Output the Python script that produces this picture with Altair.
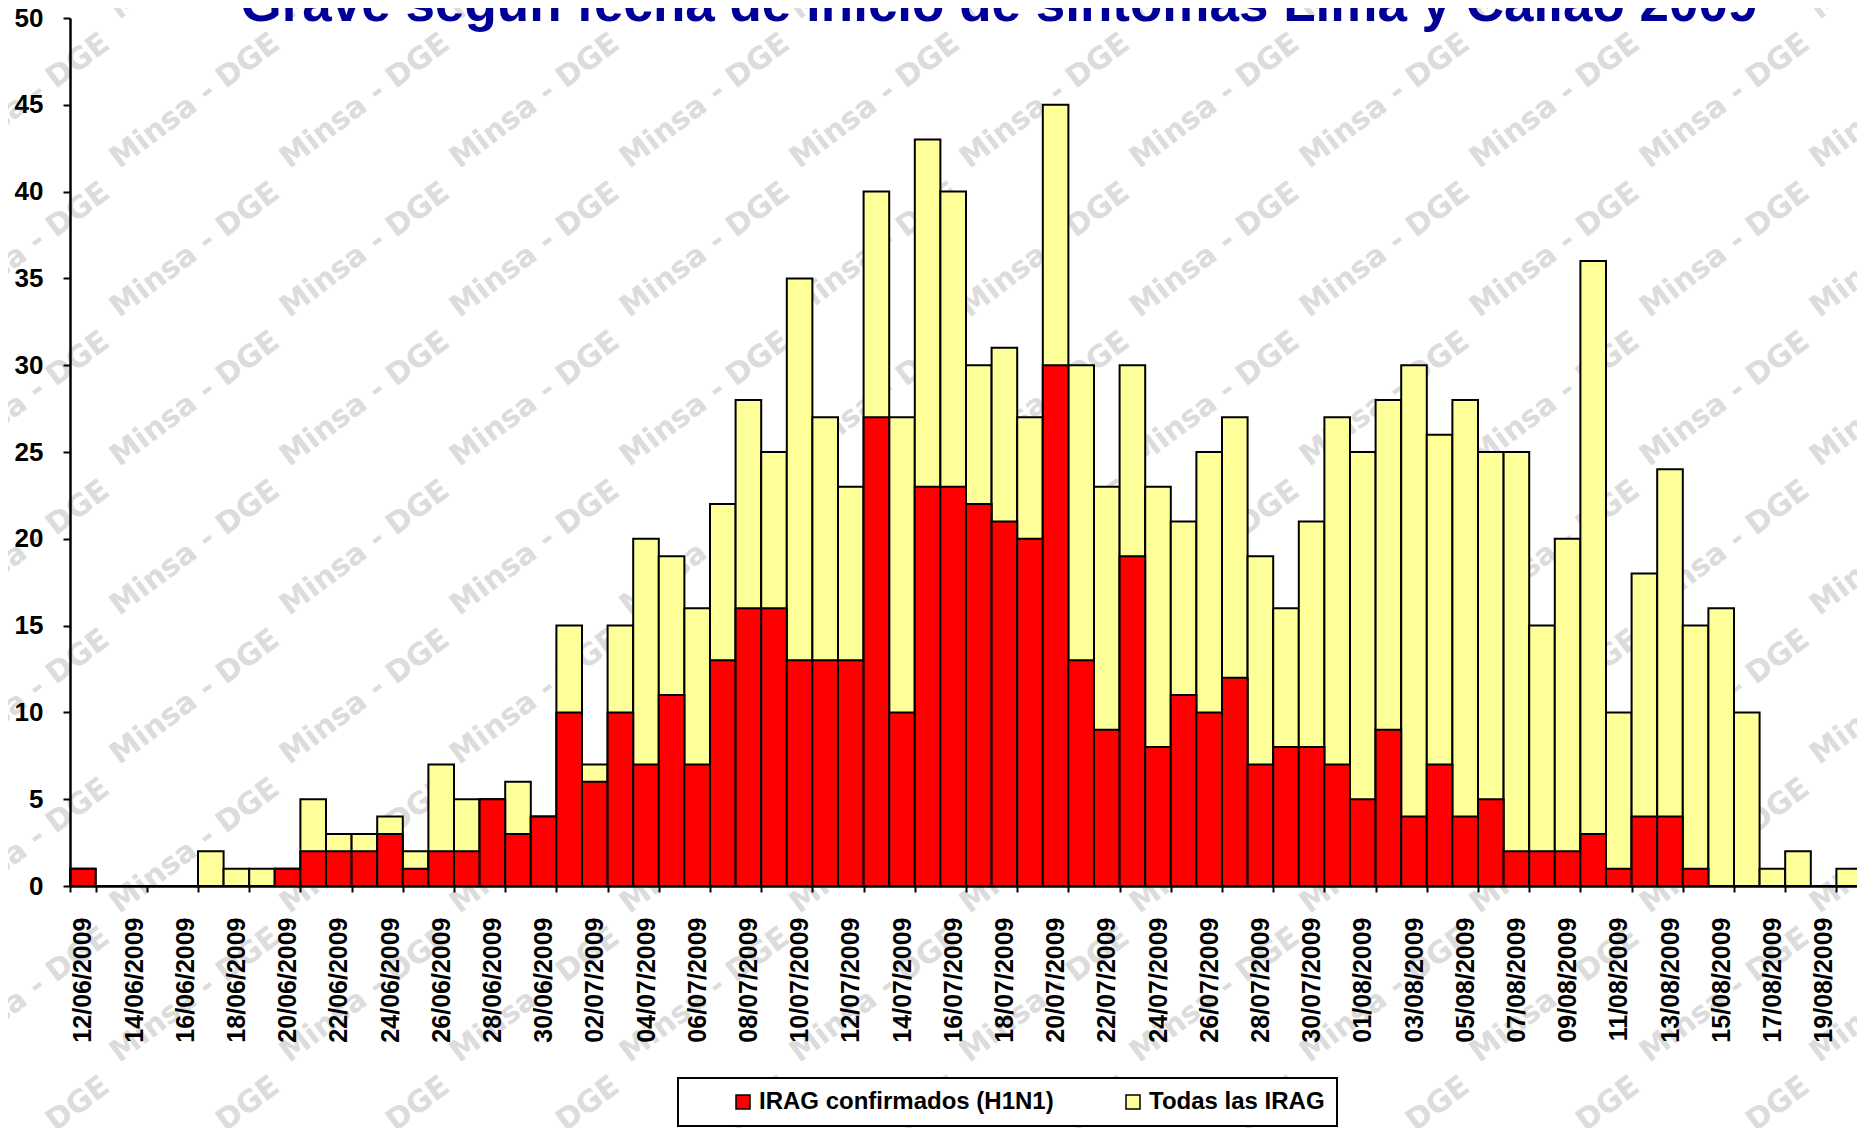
import altair as alt
import pandas as pd

# ---------------- data ----------------
fechas = [d.strftime("%d/%m/%Y") for d in pd.date_range("2009-06-12", "2009-08-20", freq="D")]

confirmados = [1, 0, 0, 0, 0, 0, 0, 0, 1,
               2, 2, 2, 3, 1, 2, 2, 5, 3, 4,
               10, 6, 10, 7, 11, 7, 13, 16, 16, 13,
               13, 13, 27, 10, 23, 23, 22, 21, 20, 30,
               13, 9, 19, 8, 11, 10, 12, 7, 8, 8,
               7, 5, 9, 4, 7, 4, 5, 2, 2, 2,
               3, 1, 4, 4, 1, 0, 0, 0, 0, 0, 0]

todas = [1, 0, 0, 0, 0, 2, 1, 1, 1,
         5, 3, 3, 4, 2, 7, 5, 5, 6, 4,
         15, 7, 15, 20, 19, 16, 22, 28, 25, 35,
         27, 23, 40, 27, 43, 40, 30, 31, 27, 45,
         30, 23, 30, 23, 21, 25, 27, 19, 16, 21,
         27, 25, 28, 30, 26, 28, 25, 25, 15, 20,
         36, 10, 18, 24, 15, 16, 10, 1, 2, 0, 1]

series = ["IRAG confirmados (H1N1)", "Todas las IRAG"]
colores = ["#FF0000", "#FFFF99"]
titulo = "Grave según fecha de inicio de síntomas Lima y Callao 2009"
marca_agua = "Minsa - DGE"
y_ticks = list(range(0, 51, 5))

df = pd.DataFrame({
    "fecha": fechas * 2,
    "serie": [series[1]] * len(fechas) + [series[0]] * len(fechas),
    "valor": todas + confirmados,
})

# watermark tiling (decorative)
STEP_X, STEP_Y, X0, Y0 = 170, 149, -45, -66
wm = pd.DataFrame([
    {"wx": X0 + STEP_X * i, "wy": Y0 + STEP_Y * j, "t": marca_agua}
    for i in range(12) for j in range(9)
])

FONT = "Liberation Sans"

legend = alt.Legend(
    orient="none", legendX=608, legendY=1060, direction="horizontal", title=None,
    fillColor="white", strokeColor="black", padding=12,
    symbolType="square", symbolSize=196, symbolOffset=41,
    symbolStrokeColor="black", symbolStrokeWidth=1.5, symbolOpacity=1,
    labelOffset=4, columnPadding=26, labelLimit=500,
    labelFont=FONT, labelFontSize=24, labelFontWeight="bold", labelColor="black",
)

x_enc = alt.X(
    "fecha:N", sort=fechas,
    scale=alt.Scale(domain=fechas, paddingInner=0, paddingOuter=0),
    axis=alt.Axis(
        values=fechas[::2], tickBand="extent", tickExtra=False,
        labelAngle=270, labelFont=FONT, labelFontSize=25, labelFontWeight="bold",
        labelColor="black", labelPadding=25, labelOverlap=False,
        tickSize=6, tickWidth=2, tickColor="black",
        domainColor="black", domainWidth=2.5, title=None, grid=False, zindex=1,
    ),
)
y_enc = alt.Y(
    "valor:Q",
    scale=alt.Scale(domain=[0, 50], nice=False),
    axis=alt.Axis(
        values=y_ticks, labelFont=FONT, labelFontSize=26, labelFontWeight="bold",
        labelColor="black", labelPadding=20, labelOverlap=False,
        tickSize=7, tickWidth=2, tickColor="black",
        domainColor="black", domainWidth=2.5, title=None, grid=False, zindex=1,
    ),
)
color_enc = alt.Color("serie:N", scale=alt.Scale(domain=series, range=colores), legend=legend)

base = alt.Chart(df)
yellow = base.transform_filter(alt.datum.serie == series[1]).mark_bar(
    stroke="black", strokeWidth=2, opacity=1
).encode(x=x_enc, y=y_enc, color=color_enc)
red = base.transform_filter(alt.datum.serie == series[0]).mark_bar(
    stroke="black", strokeWidth=2, opacity=1
).encode(x=x_enc, y=y_enc, color=color_enc)

title_mark = alt.Chart(pd.DataFrame({"t": [titulo]})).mark_text(
    font=FONT, fontSize=53, fontWeight="bold", color="#000099",
    align="center", baseline="alphabetic"
).encode(text="t:N", x=alt.value(929), y=alt.value(3))

bars = alt.layer(yellow, red, title_mark)

watermark = alt.Chart(wm).mark_text(
    font="DejaVu Sans", fontSize=30, fontWeight="bold", color="#dcdcdc",
    angle=323, align="center", baseline="middle"
).encode(
    x=alt.X("wx:Q", scale=None, axis=None),
    y=alt.Y("wy:Q", scale=None, axis=None),
    text="t:N",
)

chart = alt.layer(watermark, bars).resolve_scale(
    x="independent", y="independent"
).properties(
    width=1792, height=868,
    autosize=alt.AutoSizeParams(type="none"),
    padding={"left": 62, "top": 10, "right": -5, "bottom": 242},
    background="white",
).configure_view(stroke=None).configure_legend(strokeWidth=2)

chart.save("out.html", embed_options={"renderer": "svg", "actions": False})
